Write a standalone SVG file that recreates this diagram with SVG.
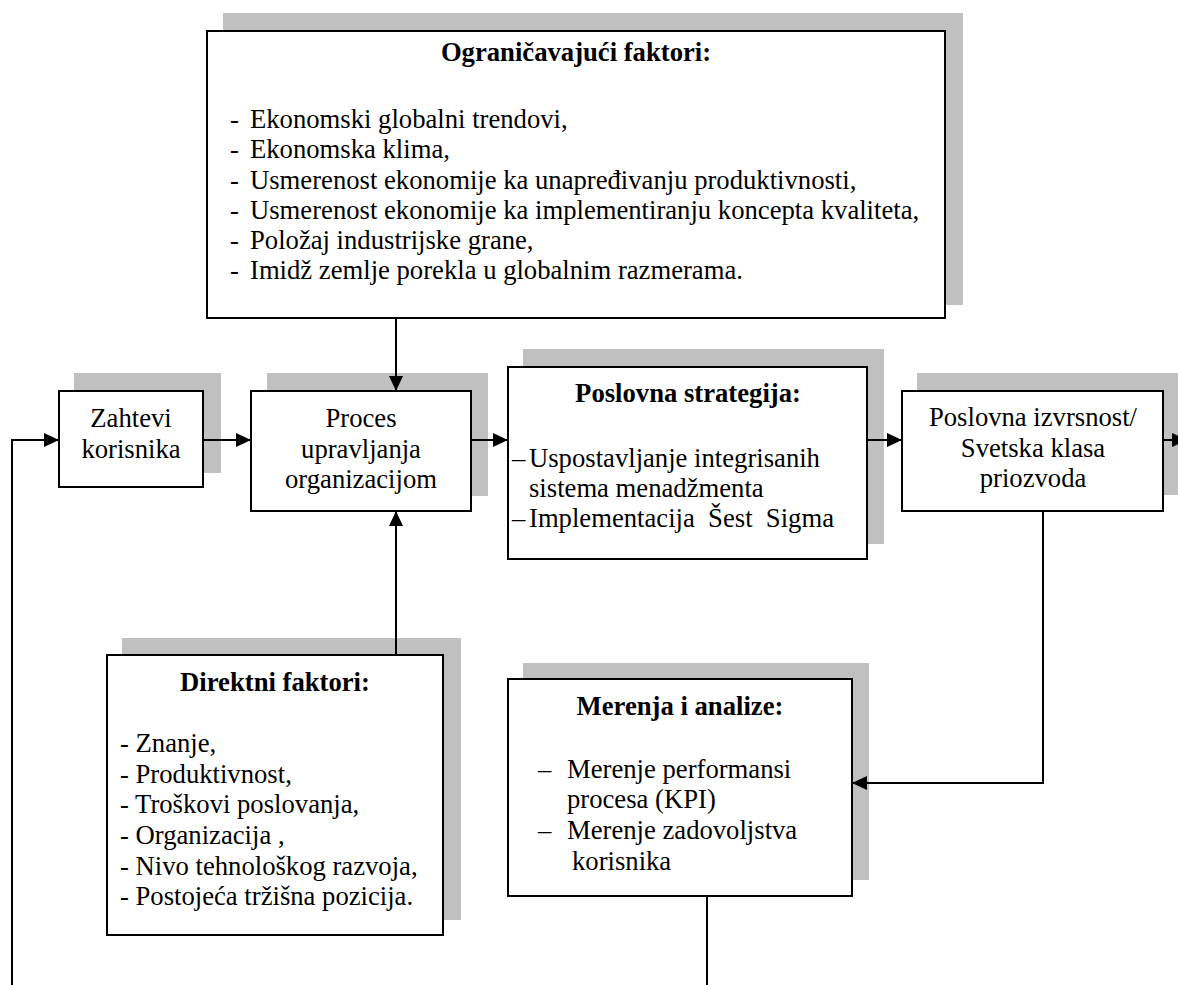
<svg xmlns="http://www.w3.org/2000/svg" width="1178" height="985" viewBox="0 0 1178 985">
<style>
  .shadow { fill: #c0c0c0; }
  .box { fill: #ffffff; stroke: #000000; stroke-width: 2; }
  .t { font-family: "Liberation Serif", "Times New Roman", serif; font-size: 26.67px; fill: #000000; }
  .b { font-weight: bold; }
  .c { text-anchor: middle; }
  .conn { fill: none; stroke: #000000; stroke-width: 2; }
</style>
<defs>
  <marker id="arrow" markerUnits="userSpaceOnUse" markerWidth="16" markerHeight="15" refX="15" refY="7" orient="auto">
    <path d="M0,0 L15,7 L0,14 z" fill="#000000"/>
  </marker>
</defs>
<rect width="1178" height="985" fill="#ffffff"/>

<g id="ogranicavajuci">
  <rect class="shadow" x="223" y="13" width="740" height="292"/>
  <rect class="box" x="207" y="31" width="738" height="287"/>
  <text class="t b c" x="576" y="61">Ograničavajući faktori:</text>
  <text class="t" x="230" y="128">-</text><text class="t" x="250" y="128">Ekonomski globalni trendovi,</text>
  <text class="t" x="230" y="158">-</text><text class="t" x="250" y="158">Ekonomska klima,</text>
  <text class="t" x="230" y="189">-</text><text class="t" x="250" y="189">Usmerenost ekonomije ka unapređivanju produktivnosti,</text>
  <text class="t" x="230" y="219">-</text><text class="t" x="250" y="219">Usmerenost ekonomije ka implementiranju koncepta kvaliteta,</text>
  <text class="t" x="230" y="249">-</text><text class="t" x="250" y="249">Položaj industrijske grane,</text>
  <text class="t" x="230" y="279">-</text><text class="t" x="250" y="279">Imidž zemlje porekla u globalnim razmerama.</text>
</g>

<g id="zahtevi">
  <rect class="shadow" x="74" y="373" width="147" height="100"/>
  <rect class="box" x="59" y="391" width="144" height="96"/>
  <text class="t c" x="131" y="427">Zahtevi</text>
  <text class="t c" x="131" y="458">korisnika</text>
</g>

<g id="proces">
  <rect class="shadow" x="267" y="373" width="221" height="123"/>
  <rect class="box" x="251" y="391" width="220" height="120"/>
  <text class="t c" x="361" y="427">Proces</text>
  <text class="t c" x="361" y="458">upravljanja</text>
  <text class="t c" x="361" y="488">organizacijom</text>
</g>

<g id="strategija">
  <rect class="shadow" x="523" y="349" width="361" height="195"/>
  <rect class="box" x="508" y="367" width="359" height="192"/>
  <text class="t b c" x="688" y="402">Poslovna strategija:</text>
  <text class="t" x="512" y="467">–</text><text class="t" x="529" y="467">Uspostavljanje integrisanih</text>
  <text class="t" x="529" y="497">sistema menadžmenta</text>
  <text class="t" x="512" y="527">–</text><text class="t" x="529" y="527" xml:space="preserve">Implementacija  Šest  Sigma</text>
</g>

<g id="izvrsnost">
  <rect class="shadow" x="917" y="373" width="263" height="122"/>
  <rect class="box" x="902" y="391" width="261" height="120"/>
  <text class="t c" x="1033" y="426">Poslovna izvrsnost/</text>
  <text class="t c" x="1033" y="457">Svetska klasa</text>
  <text class="t c" x="1033" y="487">priozvoda</text>
</g>

<g id="direktni">
  <rect class="shadow" x="122" y="638" width="339" height="282"/>
  <rect class="box" x="107" y="655" width="336" height="280"/>
  <text class="t b c" x="275" y="691">Direktni faktori:</text>
  <text class="t" x="120" y="752">- Znanje,</text>
  <text class="t" x="120" y="783">- Produktivnost,</text>
  <text class="t" x="120" y="813">- Troškovi poslovanja,</text>
  <text class="t" x="120" y="844">- Organizacija ,</text>
  <text class="t" x="120" y="875">- Nivo tehnološkog razvoja,</text>
  <text class="t" x="120" y="905">- Postojeća tržišna pozicija.</text>
</g>

<g id="merenja">
  <rect class="shadow" x="523" y="663" width="346" height="217"/>
  <rect class="box" x="508" y="679" width="344" height="217"/>
  <text class="t b c" x="680" y="715">Merenja i analize:</text>
  <text class="t" x="538" y="778">–</text><text class="t" x="567" y="778">Merenje performansi</text>
  <text class="t" x="567" y="808">procesa (KPI)</text>
  <text class="t" x="538" y="839">–</text><text class="t" x="567" y="839">Merenje zadovoljstva</text>
  <text class="t" x="572" y="870">korisnika</text>
</g>

<g id="connectors">
  <path class="conn" d="M12,985 L12,440 L59,440" marker-end="url(#arrow)"/>
  <path class="conn" d="M203,440 L251,440" marker-end="url(#arrow)"/>
  <path class="conn" d="M471,440 L508,440" marker-end="url(#arrow)"/>
  <path class="conn" d="M867,440 L902,440" marker-end="url(#arrow)"/>
  <path class="conn" d="M1163,440 L1187,440" marker-end="url(#arrow)"/>
  <path class="conn" d="M396,318 L396,391" marker-end="url(#arrow)"/>
  <path class="conn" d="M396,655 L396,511" marker-end="url(#arrow)"/>
  <path class="conn" d="M1043,511 L1043,783 L852,783" marker-end="url(#arrow)"/>
  <path class="conn" d="M707,896 L707,985"/>
</g>
</svg>
